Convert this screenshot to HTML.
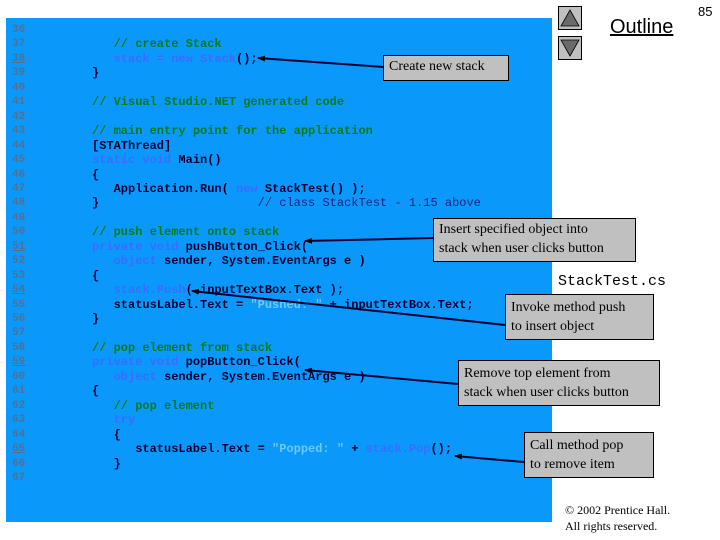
<!DOCTYPE html>
<html><head><meta charset="utf-8"><style>
body{margin:0;width:720px;height:540px;background:#fff;position:relative;overflow:hidden;font-family:"Liberation Sans",sans-serif}
#panel{position:absolute;left:6px;top:18px;width:546px;height:504px;background:#0a99fa}
.ln{position:absolute;left:12px;font:bold 11px "Liberation Mono",monospace;color:#52708f}
.ln.u{text-decoration:underline}
.c{position:absolute;font:bold 12px "Liberation Mono",monospace;color:#000033;white-space:pre}
.g{color:#007a1e}.k{color:#3a6cff}.s{color:#6cc8ff}.n{color:#1a237e;font-weight:normal}
.box{position:absolute;background:#c0c0c0;border:1px solid #000;font:14px "Liberation Serif",serif;color:#000;line-height:19px;padding:1px 5px;box-sizing:border-box}
.btn{position:absolute;left:558px;width:24px;height:24px;background:#c0c0c0;border:1px solid #000;box-sizing:border-box}
</style></head><body>
<div id="panel"></div>
<div class="btn" style="top:6px"><svg width="22" height="22"><polygon points="11,3 20,19 2,19" fill="#6a6a6a" stroke="#000" stroke-width="0.8"/></svg></div>
<div class="btn" style="top:36px"><svg width="22" height="22"><polygon points="2,3 20,3 11,19" fill="#6a6a6a" stroke="#000" stroke-width="0.8"/></svg></div>
<div style="position:absolute;left:610px;top:16px;font-size:20px;text-decoration:underline">Outline</div>
<div style="position:absolute;left:698px;top:4px;font:13px 'Liberation Sans',sans-serif">85</div>
<div style="position:absolute;left:558px;top:273px;font:15px 'Liberation Mono',monospace">StackTest.cs</div>
<div style="position:absolute;left:565px;top:502px;font:12px 'Liberation Serif',serif;line-height:16px">© 2002 Prentice Hall.<br>All rights reserved.</div>

<div id="code"></div>
<script>
const L=[
["36",0,""],
["37",3,'<span class="g">// create Stack</span>'],
["38",3,'<span class="k">stack = new Stack</span>();',1],
["39",0,'}'],
["40",0,''],
["41",0,'<span class="g">// Visual Studio.NET generated code</span>'],
["42",0,''],
["43",0,'<span class="g">// main entry point for the application</span>'],
["44",0,'[STAThread]'],
["45",0,'<span class="k">static void</span> Main()'],
["46",0,'{'],
["47",3,'Application.Run( <span class="k">new</span> StackTest() );'],
["48",0,'}                      <span class="n">// class StackTest - 1.15 above</span>'],
["49",0,''],
["50",0,'<span class="g">// push element onto stack</span>'],
["51",0,'<span class="k">private void</span> pushButton_Click(',1],
["52",3,'<span class="k">object</span> sender, System.EventArgs e )'],
["53",0,'{'],
["54",3,'<span class="k">stack.Push</span>( inputTextBox.Text );',1],
["55",3,'statusLabel.Text = <span class="s">"Pushed: "</span> + inputTextBox.Text;'],
["56",0,'}'],
["57",0,''],
["58",0,'<span class="g">// pop element from stack</span>'],
["59",0,'<span class="k">private void</span> popButton_Click(',1],
["60",3,'<span class="k">object</span> sender, System.EventArgs e )'],
["61",0,'{'],
["62",3,'<span class="g">// pop element</span>'],
["63",3,'<span class="k">try</span>'],
["64",3,'{'],
["65",6,'statusLabel.Text = <span class="s">"Popped: "</span> + <span class="k">stack.Pop</span>();',1],
["66",3,'}'],
["67",0,'']];
let h='';
L.forEach((r,i)=>{const y=23+i*14.45;
h+=`<div class="ln${r[3]?' u':''}" style="top:${y+1}px">${r[0]}</div>`;
h+=`<div class="c" style="left:${92+r[1]*7.2}px;top:${y}px">${r[2]}</div>`;});
document.getElementById('code').innerHTML=h;
</script>

<svg style="position:absolute;left:0;top:0" width="720" height="540">
<defs><marker id="a" markerWidth="8" markerHeight="6" refX="7" refY="3" orient="auto" markerUnits="userSpaceOnUse"><polygon points="0,0 8,3 0,6" fill="#000"/></marker></defs>
<g stroke="#000033" stroke-width="2" marker-end="url(#a)">
<line x1="383" y1="67" x2="258" y2="58"/>
<line x1="433" y1="238" x2="305" y2="241"/>
<line x1="505" y1="325" x2="192" y2="291"/>
<line x1="458" y1="384" x2="305" y2="370"/>
<line x1="524" y1="462" x2="455" y2="456"/>
</g></svg>

<div class="box" style="left:383px;top:55px;width:126px;height:26px">Create new stack</div>
<div class="box" style="left:433px;top:218px;width:203px;height:44px">Insert specified object into<br>stack when user clicks button</div>
<div class="box" style="left:505px;top:294px;width:149px;height:46px;padding-top:3px">Invoke method push<br>to insert object</div>
<div class="box" style="left:458px;top:360px;width:202px;height:46px;padding-top:3px">Remove top element from<br>stack when user clicks button</div>
<div class="box" style="left:524px;top:432px;width:130px;height:46px;padding-top:3px">Call method pop<br>to remove item</div>
</body></html>
